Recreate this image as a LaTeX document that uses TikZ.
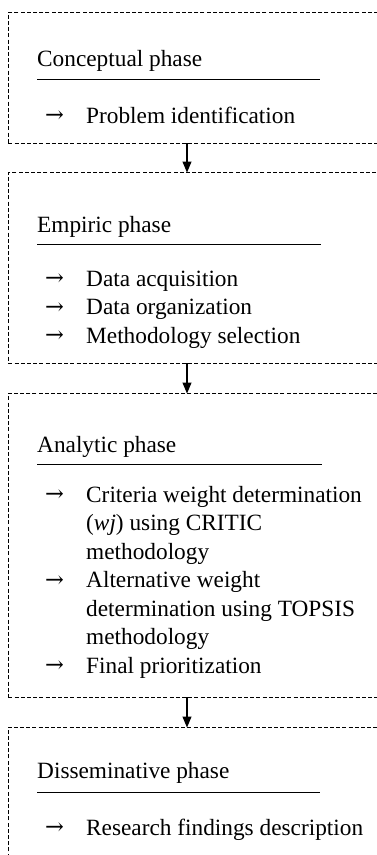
\documentclass[tikz,border=0pt]{standalone}
\usepackage{fontspec}
\setmainfont{Liberation Serif}
\newfontfamily\arrowfont{DejaVu Serif}
\usetikzlibrary{arrows.meta}

\tikzset{
  phasebox/.style={draw, dash pattern=on 4pt off 2.2pt, line width=0.9pt,
    minimum width=420pt, anchor=north west, inner sep=0pt},
  openbox/.style={dash pattern=on 4pt off 2.2pt, line width=0.9pt},
  heading/.style={anchor=base west, inner sep=0pt},
  rule/.style={line width=0.9pt},
  bullet/.style={anchor=base west, inner sep=0pt,
    font=\arrowfont\fontsize{22.5}{22.5}\selectfont, yshift=0.5pt},
  itemtext/.style={anchor=base west, inner sep=0pt},
  flow/.style={line width=1.1pt, -{Triangle[length=11pt,width=9pt]}, shorten >=-0.5pt},
}
% stacked lines whose baseline is the first one
\newcommand{\linesof}[1]{\vtop{#1}}
\newcommand{\itemarrow}{→}

\begin{document}
\begin{tikzpicture}[x=1pt,y=-1pt,
  every node/.style={font=\fontsize{23.3}{28.5}\selectfont}]
\useasboundingbox (0,0) rectangle (377,855);
\clip (0,0) rectangle (377,855);

% phase frames
\node[phasebox, minimum height=131pt] (b1) at (8,12) {};
\node[phasebox, minimum height=191pt] (b2) at (8,172) {};
\node[phasebox, minimum height=304pt] (b3) at (8,393) {};
\coordinate (b4nw) at (8,727);
\draw[openbox] (8,870) -- (b4nw) -- (420,727);

% connector anchors on the frames
\coordinate (c1) at (187,143);
\coordinate (c2) at (187,172);
\coordinate (c3) at (187,363);
\coordinate (c4) at (187,393);
\coordinate (c5) at (187,697);
\coordinate (c6) at (187,727);
\draw[flow] (c1) -- (c2);
\draw[flow] (c3) -- (c4);
\draw[flow] (c5) -- (c6);

% Conceptual phase
\node[heading] (h1) at (37,66) {Conceptual phase};
\draw[rule] (37,79) -- (320,79);
\node[bullet] (a11) at (45,123) {\itemarrow};
\node[itemtext] (t11) at (86,123) {Problem identification};

% Empiric phase
\node[heading] (h2) at (37,232) {Empiric phase};
\draw[rule] (37,244) -- (321,244);
\node[bullet] (a21) at (45,286) {\itemarrow};
\node[itemtext] (t21) at (86,286) {Data acquisition};
\node[bullet] (a22) at (45,314.5) {\itemarrow};
\node[itemtext] (t22) at (86,314.5) {Data organization};
\node[bullet] (a23) at (45,343) {\itemarrow};
\node[itemtext] (t23) at (86,343) {Methodology selection};

% Analytic phase
\node[heading] (h3) at (37,452) {Analytic phase};
\draw[rule] (37,464) -- (322,464);
\node[bullet] (a31) at (45,502) {\itemarrow};
\node[itemtext] (t31) at (86,502) {\linesof{\hbox{Criteria weight determination}\hbox{(\textit{wj}) using CRITIC}\hbox{methodology}}};
\node[bullet] (a32) at (45,587.5) {\itemarrow};
\node[itemtext] (t32) at (86,587.5) {\linesof{\hbox{Alternative weight}\hbox{determination using TOPSIS}\hbox{methodology}}};
\node[bullet] (a33) at (45,673) {\itemarrow};
\node[itemtext] (t33) at (86,673) {Final prioritization};

% Disseminative phase
\node[heading] (h4) at (37,778) {Disseminative phase};
\draw[rule] (37,792) -- (320,792);
\node[bullet] (a41) at (45,835) {\itemarrow};
\node[itemtext] (t41) at (86,835) {Research findings description};
\end{tikzpicture}
\end{document}
